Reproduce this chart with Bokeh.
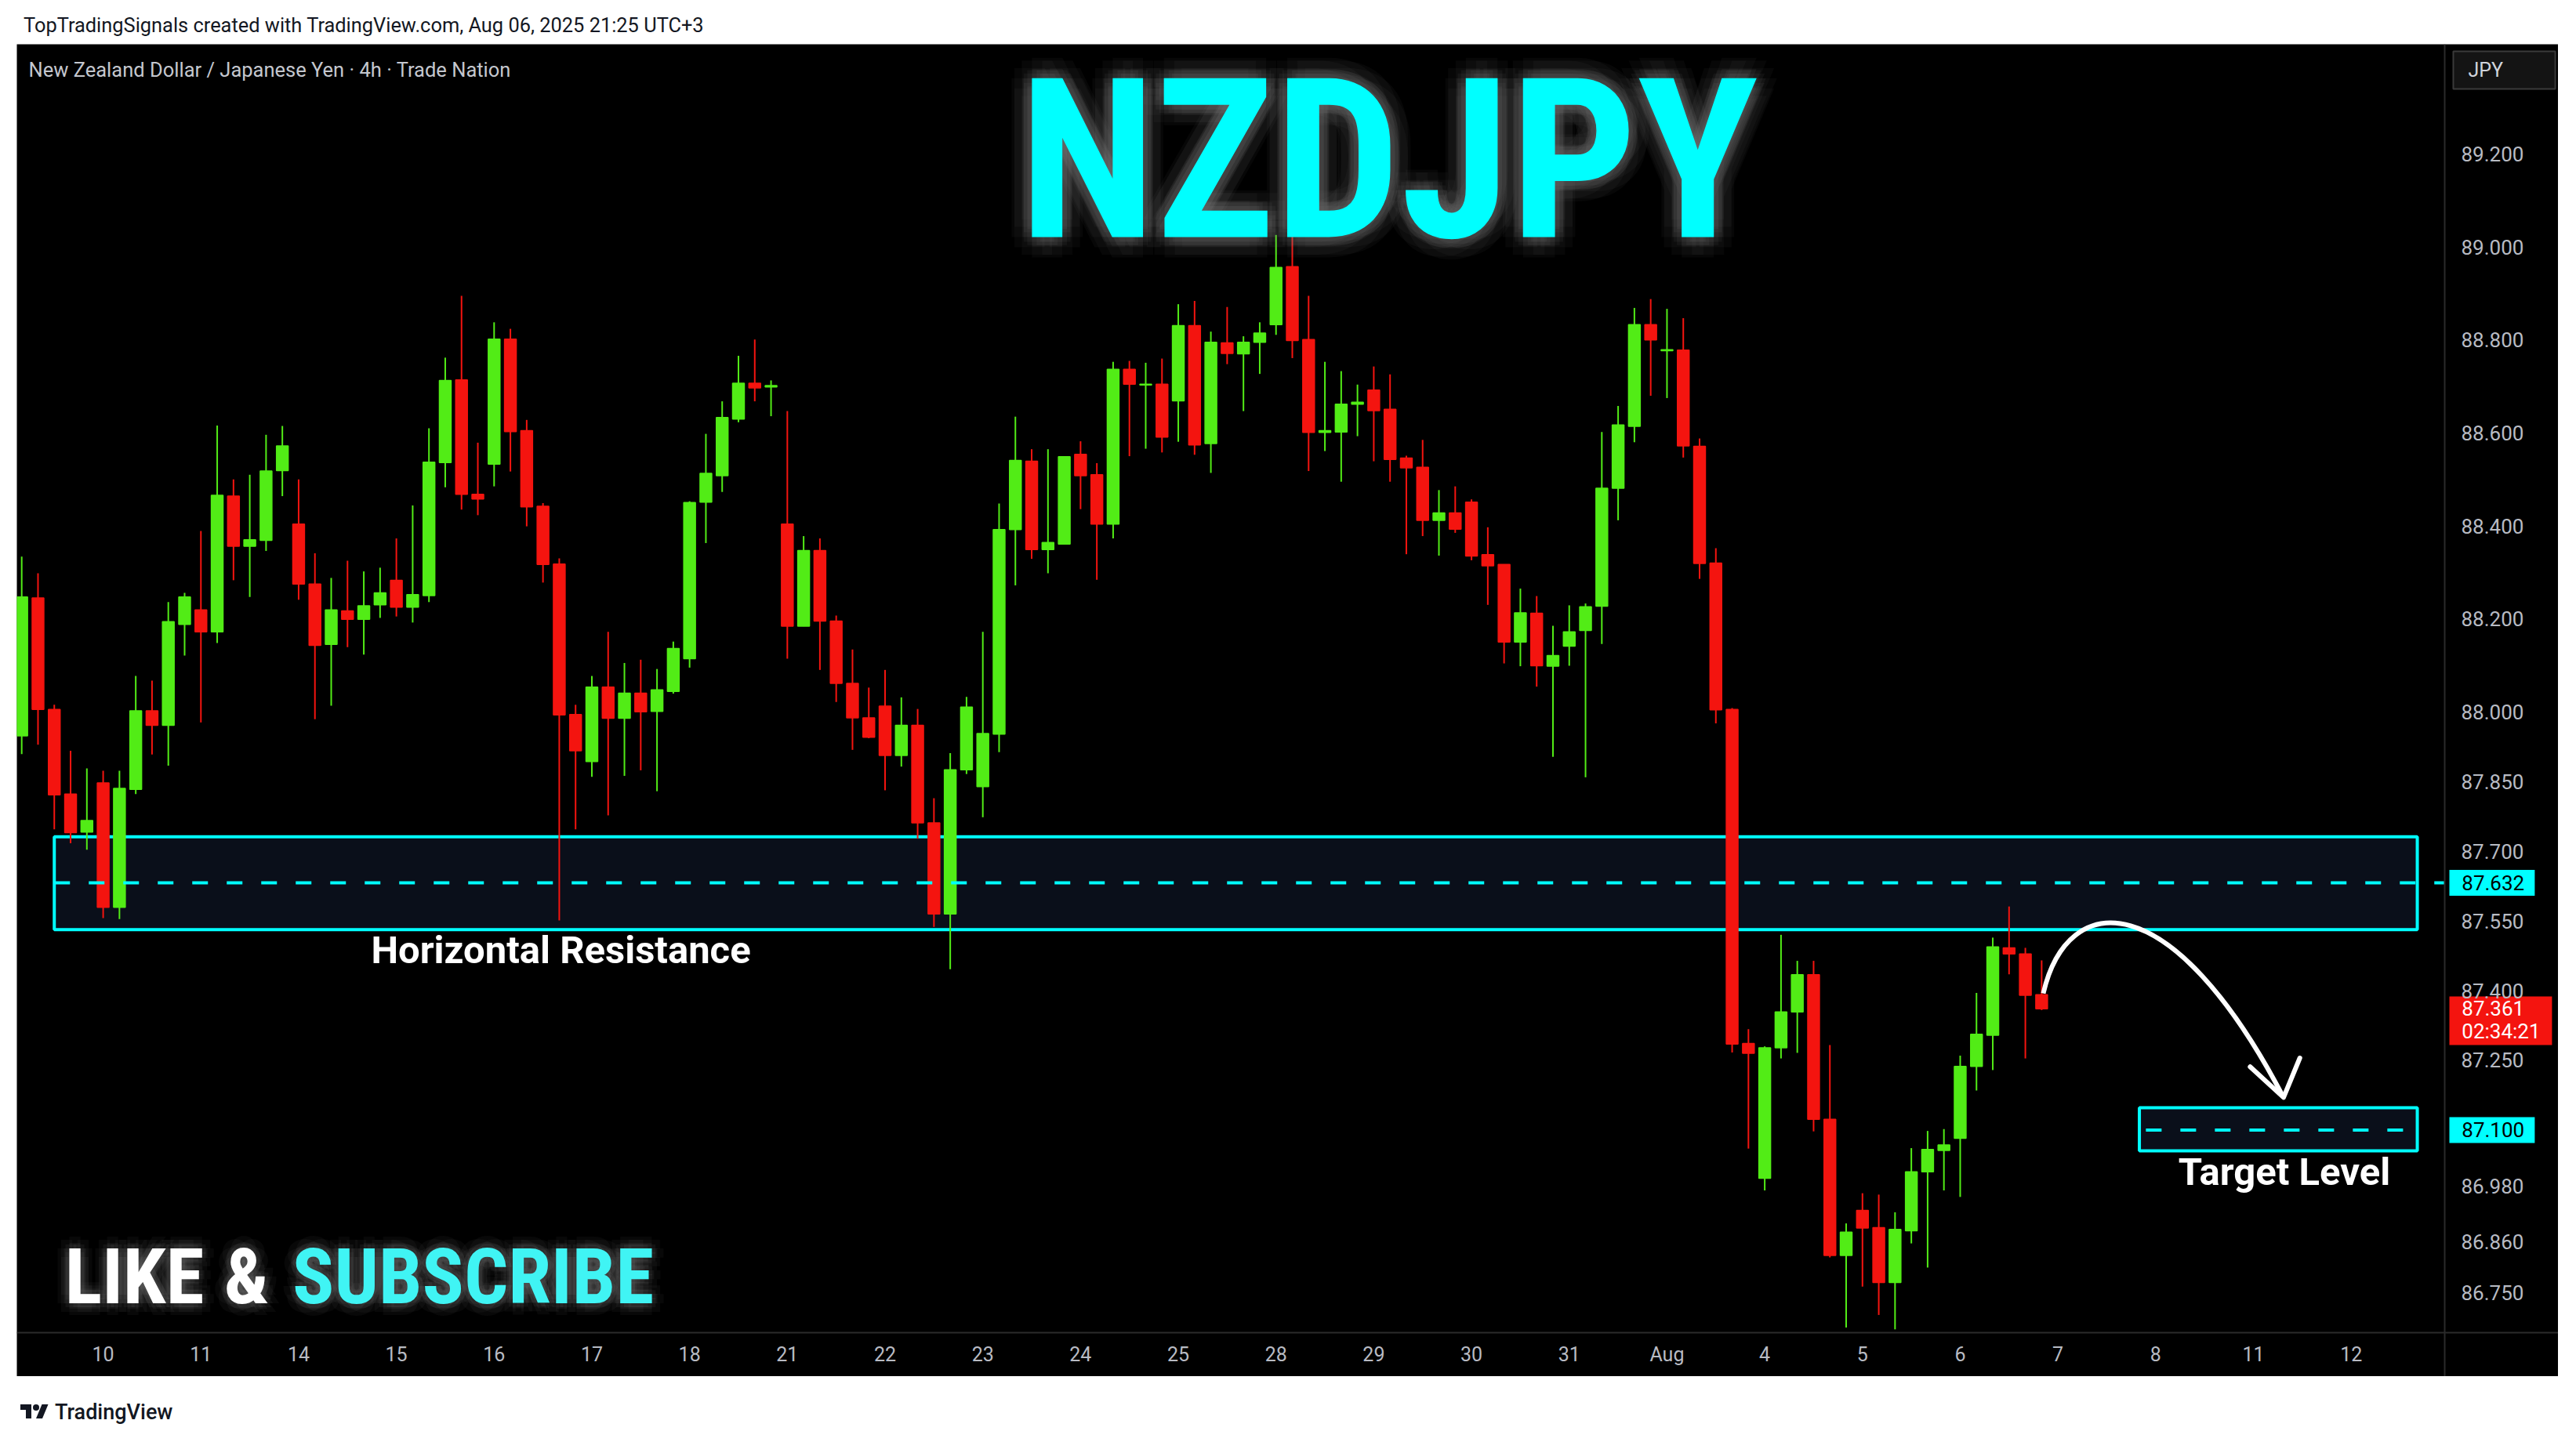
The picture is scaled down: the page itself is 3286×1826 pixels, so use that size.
import numpy as np
from bokeh.plotting import figure
from bokeh.models import Range1d, FixedTicker, PrintfTickFormatter, Label, Div, ColumnDataSource
from bokeh.layouts import column
from bokeh.embed import file_html
from bokeh.resources import INLINE
from bokeh.core.properties import value

# ---------------- data (4h bars, index 0 = first bar of Jul 10) ----------------
bar_index = list(range(-5, 120))
opens = [87.948, 88.245, 88.005, 87.823, 87.741,
         87.847, 87.579, 87.833, 88.002, 87.971, 88.188,
         88.219, 88.172, 88.464, 88.356, 88.369, 88.519,
         88.404, 88.275, 88.145, 88.217, 88.199, 88.230,
         88.283, 88.225, 88.250, 88.536, 88.714, 88.468,
         88.533, 88.802, 88.605, 88.442, 88.318, 87.994,
         87.893, 88.053, 87.986, 88.040, 88.001, 88.044,
         88.114, 88.451, 88.508, 88.630, 88.707, 88.699,
         88.404, 88.184, 88.347, 88.195, 88.061, 87.987,
         88.012, 87.906, 87.971, 87.761, 87.565, 87.875,
         87.839, 87.952, 88.392, 88.539, 88.349, 88.361,
         88.554, 88.510, 88.404, 88.737, 88.703, 88.705,
         88.669, 88.831, 88.577, 88.794, 88.770, 88.795,
         88.833, 88.958, 88.801, 88.601, 88.602, 88.662,
         88.692, 88.651, 88.546, 88.526, 88.412, 88.428,
         88.451, 88.338, 88.317, 88.150, 88.212, 88.098,
         88.141, 88.175, 88.227, 88.481, 88.614, 88.833,
         88.777, 88.778, 88.571, 88.320, 88.005, 87.286,
         86.996, 87.277, 87.354, 87.434, 87.123, 86.830,
         86.927, 86.890, 86.772, 86.883, 87.010, 87.056,
         87.082, 87.237, 87.304, 87.492, 87.479, 87.391]
highs = [88.334, 88.298, 88.015, 87.916, 87.878,
         87.873, 87.873, 88.077, 88.067, 88.236, 88.256,
         88.389, 88.616, 88.500, 88.510, 88.596, 88.615,
         88.500, 88.341, 88.288, 88.325, 88.302, 88.310,
         88.373, 88.444, 88.610, 88.762, 88.895, 88.579,
         88.838, 88.824, 88.628, 88.449, 88.330, 88.015,
         88.077, 88.172, 88.105, 88.112, 88.092, 88.151,
         88.453, 88.598, 88.668, 88.766, 88.801, 88.713,
         88.647, 88.378, 88.373, 88.207, 88.134, 88.052,
         88.090, 88.031, 88.006, 87.814, 87.911, 88.032,
         88.172, 88.448, 88.635, 88.565, 88.565, 88.550,
         88.582, 88.535, 88.753, 88.755, 88.751, 88.760,
         88.877, 88.884, 88.818, 88.871, 88.808, 88.838,
         89.026, 89.054, 88.895, 88.753, 88.733, 88.704,
         88.743, 88.726, 88.551, 88.585, 88.477, 88.485,
         88.457, 88.397, 88.317, 88.265, 88.249, 88.185,
         88.229, 88.233, 88.602, 88.658, 88.869, 88.888,
         88.867, 88.847, 88.588, 88.352, 88.008, 87.317,
         87.280, 87.520, 87.464, 87.464, 87.283, 86.899,
         86.964, 86.961, 86.923, 87.061, 87.098, 87.102,
         87.260, 87.395, 87.514, 87.581, 87.492, 87.465]
lows = [87.909, 87.929, 87.747, 87.717, 87.703,
        87.556, 87.554, 87.823, 87.908, 87.884, 88.121,
        87.977, 88.148, 88.283, 88.247, 88.346, 88.464,
        88.241, 87.984, 88.013, 88.139, 88.123, 88.202,
        88.205, 88.192, 88.236, 88.483, 88.435, 88.423,
        88.485, 88.517, 88.399, 88.278, 87.551, 87.747,
        87.860, 87.777, 87.862, 87.874, 87.829, 88.039,
        88.095, 88.363, 88.473, 88.623, 88.668, 88.636,
        88.114, 88.184, 88.090, 88.021, 87.918, 87.943,
        87.831, 87.882, 87.727, 87.537, 87.446, 87.866,
        87.773, 87.913, 88.272, 88.329, 88.298, 88.361,
        88.436, 88.284, 88.373, 88.550, 88.566, 88.558,
        88.581, 88.553, 88.514, 88.748, 88.647, 88.727,
        88.811, 88.761, 88.518, 88.561, 88.495, 88.593,
        88.539, 88.495, 88.339, 88.378, 88.336, 88.385,
        88.326, 88.230, 88.104, 88.098, 88.054, 87.903,
        88.099, 87.859, 88.146, 88.412, 88.580, 88.680,
        88.675, 88.547, 88.286, 87.975, 87.267, 87.060,
        86.970, 87.254, 87.266, 87.097, 86.826, 86.675,
        86.763, 86.702, 86.671, 86.856, 86.804, 86.970,
        86.956, 87.185, 87.229, 87.435, 87.254, 87.358]
closes = [88.247, 88.005, 87.821, 87.740, 87.766,
          87.579, 87.835, 88.002, 87.971, 88.194, 88.247,
          88.172, 88.466, 88.356, 88.370, 88.518, 88.572,
          88.275, 88.143, 88.219, 88.199, 88.228, 88.256,
          88.225, 88.252, 88.537, 88.713, 88.468, 88.458,
          88.802, 88.603, 88.441, 88.317, 87.993, 87.916,
          88.053, 87.986, 88.040, 88.000, 88.047, 88.136,
          88.450, 88.513, 88.633, 88.707, 88.697, 88.702,
          88.184, 88.347, 88.195, 88.061, 87.987, 87.945,
          87.906, 87.971, 87.761, 87.565, 87.875, 88.010,
          87.953, 88.392, 88.541, 88.349, 88.364, 88.549,
          88.508, 88.404, 88.737, 88.705, 88.705, 88.591,
          88.831, 88.574, 88.795, 88.771, 88.795, 88.815,
          88.956, 88.799, 88.601, 88.605, 88.662, 88.666,
          88.648, 88.543, 88.525, 88.412, 88.428, 88.393,
          88.335, 88.314, 88.150, 88.213, 88.099, 88.121,
          88.172, 88.226, 88.481, 88.617, 88.833, 88.800,
          88.779, 88.572, 88.319, 88.004, 87.285, 87.265,
          87.277, 87.354, 87.434, 87.123, 86.830, 86.880,
          86.889, 86.772, 86.886, 87.010, 87.058, 87.068,
          87.237, 87.306, 87.494, 87.479, 87.390, 87.361]

day_tick_index = [0, 6, 12, 18, 24, 30, 36, 42, 48, 54, 60, 66, 72, 78, 84, 90,
                  96, 102, 108, 114, 120, 126, 132, 138]
day_tick_labels = ["10", "11", "14", "15", "16", "17", "18", "21", "22", "23", "24", "25",
                   "28", "29", "30", "31", "Aug", "4", "5", "6", "7", "8", "11", "12"]
price_ticks = [89.2, 89.0, 88.8, 88.6, 88.4, 88.2, 88.0, 87.85, 87.7, 87.55, 87.4,
               87.25, 86.98, 86.86, 86.75]

resistance_zone = [87.531, 87.731]
resistance_x = [-3.0, 142.06]
resistance_level = 87.632
target_zone = [87.055, 87.148]
target_x = [125.0, 142.06]
target_level = 87.100
last_price = 87.361
countdown = "02:34:21"

# arrow (cubic bezier): start, control 1, control 2, end ; arrow head polyline
arrow_x = [119.1, 120.6, 127.0, 133.85]
arrow_y = [87.394, 87.62, 87.63, 87.17]
arrow_head_x = [131.8, 133.85, 134.85]
arrow_head_y = [87.236, 87.17, 87.255]

GREEN = "#52EC16"
RED = "#F4140F"
CYAN = "#00FFFF"
AXIS_TXT = "#b8bbc3"

# whole black pane is the frame; price / time scales sit at fixed positions in it
X0, X1 = -5.298, 150.72
Y0, Y1 = 86.5695, 89.4363
PRICE_SCALE_X = 143.74
TIME_SCALE_Y = 86.664
BADGE_L, BADGE_R, BADGE_R2 = 144.03, 149.27, 150.33
BADGE_TXT_X = 144.79
HALF_BADGE = 0.0278   # half height of a one-line badge, in price units

p = figure(frame_width=3242, frame_height=1700,
           x_range=Range1d(X0, X1), y_range=Range1d(Y0, Y1),
           output_backend="svg", toolbar_location=None, y_axis_location="right",
           background_fill_color="black", border_fill_color="black",
           min_border_left=0, min_border_top=0, min_border_right=0, min_border_bottom=0,
           outline_line_color=None, margin=(0, 0, 0, 21))
p.grid.visible = False

# axes
p.yaxis.fixed_location = PRICE_SCALE_X
p.yaxis.ticker = FixedTicker(ticks=price_ticks)
p.yaxis.formatter = PrintfTickFormatter(format="%.3f")
p.yaxis.major_label_text_font = "Roboto"
p.yaxis.major_label_text_font_size = "26px"
p.yaxis.major_label_text_color = AXIS_TXT
p.yaxis.major_label_standoff = 21
p.yaxis.major_tick_out = 0
p.yaxis.major_tick_in = 0
p.yaxis.major_tick_line_color = None
p.yaxis.minor_tick_line_color = None
p.yaxis.axis_line_color = "#2b2b2b"
p.yaxis.axis_line_width = 2

p.xaxis.fixed_location = TIME_SCALE_Y
p.xaxis.ticker = FixedTicker(ticks=day_tick_index)
p.xaxis.major_label_overrides = {k: v for k, v in zip(day_tick_index, day_tick_labels)}
p.xaxis.major_label_text_font = "Roboto"
p.xaxis.major_label_text_font_size = "25px"
p.xaxis.major_label_text_color = AXIS_TXT
p.xaxis.major_label_standoff = 14
p.xaxis.major_tick_out = 0
p.xaxis.major_tick_in = 0
p.xaxis.major_tick_line_color = None
p.xaxis.minor_tick_line_color = None
p.xaxis.axis_line_color = "#2b2b2b"
p.xaxis.axis_line_width = 2

# zones (behind candles)
p.quad(left=[resistance_x[0]], right=[resistance_x[1]], bottom=[resistance_zone[0]],
       top=[resistance_zone[1]], fill_color="#0a0f1a", line_color=CYAN, line_width=4)
p.quad(left=[target_x[0]], right=[target_x[1]], bottom=[target_zone[0]],
       top=[target_zone[1]], fill_color="#0a0f1a", line_color=CYAN, line_width=4)

# candles
colors = [GREEN if c >= o else RED for o, c in zip(opens, closes)]
src = ColumnDataSource(dict(x=bar_index, o=opens, h=highs, l=lows, c=closes,
                            top=[max(o, c) for o, c in zip(opens, closes)],
                            bottom=[min(o, c) for o, c in zip(opens, closes)],
                            color=colors))
p.segment(x0="x", y0="l", x1="x", y1="h", line_color="color", line_width=2, source=src)
p.vbar(x="x", width=0.72, top="top", bottom="bottom", fill_color="color",
       line_color="color", line_width=1.5, source=src)

# dashed levels
p.segment(x0=[resistance_x[0]], y0=[resistance_level], x1=[PRICE_SCALE_X], y1=[resistance_level],
          line_color=CYAN, line_width=4, line_dash="20 24")
p.segment(x0=[target_x[0] + 0.4], y0=[target_level], x1=[target_x[1]], y1=[target_level],
          line_color=CYAN, line_width=4, line_dash="20 24")

# arrow
p.bezier(x0=[arrow_x[0]], y0=[arrow_y[0]], cx0=[arrow_x[1]], cy0=[arrow_y[1]],
         cx1=[arrow_x[2]], cy1=[arrow_y[2]], x1=[arrow_x[3]], y1=[arrow_y[3]],
         line_color="white", line_width=6)
p.line(x=arrow_head_x, y=arrow_head_y, line_color="white", line_width=6,
       line_join="round", line_cap="round")

# zone captions
p.text(x=[28.1], y=[87.487], text=["Horizontal Resistance"], text_font=value("Roboto"),
       text_font_style="bold", text_font_size="49px", text_color="white",
       text_align="center", text_baseline="middle")
p.text(x=[133.9], y=[87.010], text=["Target Level"], text_font=value("Roboto"),
       text_font_style="bold", text_font_size="49px", text_color="white",
       text_align="center", text_baseline="middle")

# price-scale badges (inside the pane, to the right of the price-scale line)
p.quad(left=[BADGE_L], right=[BADGE_R], bottom=[resistance_level - HALF_BADGE],
       top=[resistance_level + HALF_BADGE], fill_color=CYAN, line_color=None)
p.quad(left=[BADGE_L], right=[BADGE_R], bottom=[target_level - HALF_BADGE],
       top=[target_level + HALF_BADGE], fill_color=CYAN, line_color=None)
p.quad(left=[BADGE_L], right=[BADGE_R2], bottom=[87.2828], top=[87.3874],
       fill_color=RED, line_color=None)
p.quad(left=[144.27], right=[150.53], bottom=[89.3402], top=[89.4212],
       fill_color="#141414", line_color="#3a3a3a", line_width=2)
p.text(x=[BADGE_TXT_X, BADGE_TXT_X], y=[resistance_level, target_level],
       text=[f"{resistance_level:.3f}", f"{target_level:.3f}"], text_font=value("Roboto"),
       text_font_size="26px", text_color="black", text_align="left", text_baseline="middle")
p.text(x=[BADGE_TXT_X, BADGE_TXT_X], y=[last_price + 0.001, 87.3115],
       text=[f"{last_price:.3f}", countdown], text_font=value("Roboto"),
       text_font_size="26px", text_color="white", text_align="left", text_baseline="middle")
p.text(x=[145.18], y=[89.3807], text=["JPY"], text_font=value("Roboto"),
       text_font_size="25px", text_color="#d1d4dc", text_align="left", text_baseline="middle")

HEAD_FONT = "Roboto Condensed"
GLOW = "#8a8a8a"

# title with glow (faint offset copies of the same text)
TITLE_X, TITLE_Y = 78.92, 89.1851
gx, gy, gxo, gyo, ga = [], [], [], [], []
for r, a, n in [(26, 0.05, 12), (12, 0.08, 12)]:
    for k in range(n):
        ang = 2 * np.pi * k / n
        gx.append(TITLE_X)
        gy.append(TITLE_Y)
        gxo.append(float(r * np.cos(ang)))
        gyo.append(float(r * np.sin(ang)))
        ga.append(a)
gsrc = ColumnDataSource(dict(x=gx, y=gy, xo=gxo, yo=gyo, a=ga, t=["NZDJPY"] * len(gx)))
p.text(x="x", y="y", text="t", x_offset="xo", y_offset="yo", text_alpha="a",
       text_font=value(HEAD_FONT), text_font_size="285px", text_font_style="bold",
       text_color=GLOW, text_align="center", text_baseline="middle", source=gsrc)
p.text(x=[TITLE_X], y=[TITLE_Y], text=["NZDJPY"], text_font=value(HEAD_FONT),
       text_font_size="285px", text_font_style="bold", text_color=CYAN,
       text_align="center", text_baseline="middle")

# legend text
p.add_layout(Label(x=15, y=1668, x_units="screen", y_units="screen",
                   text="New Zealand Dollar / Japanese Yen · 4h · Trade Nation",
                   text_font="Roboto", text_font_size="25.5px", text_color="#c4c7ce",
                   text_baseline="middle", text_align="left"))

# "LIKE & SUBSCRIBE" (annotations, drawn last): word, centre x (bar index), colour
# (font size 99px: a size like "100px" next to "bold" is misread as a font weight)
cta_words = [("SUBSCRIBE", 22.71, "#40F4F4"), ("LIKE", 1.92, "white"), ("&", 8.80, "white")]
CTA_Y = 86.7846
CTA_SIZE = "99px"
for word, wx, col in cta_words:
    for r, a, n in [(15, 0.06, 8), (7, 0.09, 8)]:
        for k in range(n):
            ang = 2 * np.pi * k / n
            p.add_layout(Label(x=wx, y=CTA_Y, x_offset=float(r * np.cos(ang)),
                               y_offset=float(r * np.sin(ang)), text=word, text_font=HEAD_FONT,
                               text_font_size=CTA_SIZE, text_font_style="bold", text_color=GLOW,
                               text_alpha=a, text_align="center", text_baseline="middle"))
for word, wx, col in cta_words:
    p.add_layout(Label(x=wx, y=CTA_Y, text=word, text_font=HEAD_FONT, text_font_size=CTA_SIZE,
                       text_font_style="bold", text_color=col, text_align="center",
                       text_baseline="middle"))

header = Div(text=('<div style="font-family: Roboto, sans-serif; font-size: 25.4px; '
                   'color:#131722; white-space:nowrap; padding: 9px 0 0 25px;">'
                   'TopTradingSignals created with TradingView.com, Aug 06, 2025 21:25 UTC+3</div>'),
             width=3270, height=46)
footer = Div(text=('<div style="display:flex; align-items:center; padding: 22px 0 0 21px;">'
                   '<svg width="36" height="28" viewBox="0 0 36 28">'
                   '<path d="M14 22H7V11H0V4h14v18zM28 22h-8l7.5-18h8L28 22z" fill="#131722"/>'
                   '<circle cx="20" cy="8" r="4" fill="#131722"/></svg>'
                   '<span style="font-family: Roboto, sans-serif; font-size: 27px; font-weight: 500; '
                   'color:#131722; margin-left:8px;">TradingView</span></div>'),
             width=400, height=60)

layout = column(header, p, footer)
open("out.html", "w").write(file_html(layout, INLINE))
